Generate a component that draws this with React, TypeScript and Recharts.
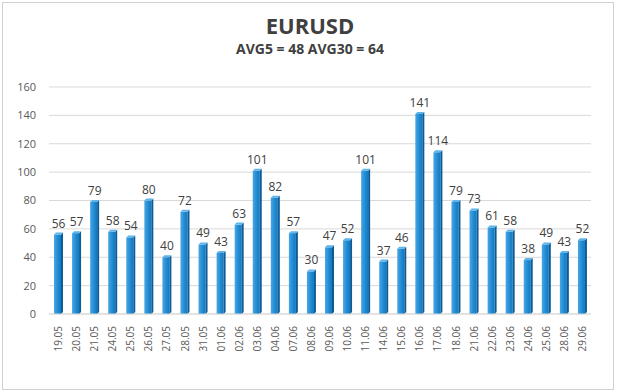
import React from 'react'
import { BarChart, Bar, XAxis, YAxis, CartesianGrid, LabelList } from 'recharts'

const dates = [
  '19.05', '20.05', '21.05', '24.05', '25.05', '26.05', '27.05', '28.05', '31.05', '01.06',
  '02.06', '03.06', '04.06', '07.06', '08.06', '09.06', '10.06', '11.06', '14.06', '15.06',
  '16.06', '17.06', '18.06', '21.06', '22.06', '23.06', '24.06', '25.06', '28.06', '29.06',
]
const values = [
  56, 57, 79, 58, 54, 80, 40, 72, 49, 43,
  63, 101, 82, 57, 30, 47, 52, 101, 37, 46,
  141, 114, 79, 73, 61, 58, 38, 49, 43, 52,
]
const yTicks = [0, 20, 40, 60, 80, 100, 120, 140, 160]

const chartData = dates.map((d, i) => ({ date: d, value: values[i] }))

const font = '"Open Sans", "Noto Sans", sans-serif'

// 3D-ish column like the Excel original
const Column3D = (props: any) => {
  const { x, y, width, height } = props
  if (height <= 0) return null
  const side = 2
  const lift = 2
  const fw = width - side
  return (
    <g>
      <rect x={x} y={y} width={fw} height={height} fill="url(#barFront)" />
      <polygon
        points={`${x + fw},${y} ${x + width},${y - lift} ${x + width},${y + height - lift} ${x + fw},${y + height}`}
        fill="#0b5c98"
      />
      <polygon
        points={`${x},${y} ${x + side},${y - lift} ${x + width},${y - lift} ${x + fw},${y}`}
        fill="#5fb4ea"
      />
    </g>
  )
}

const DateTick = (props: any) => {
  const { x, y, payload } = props
  return (
    <text
      x={x}
      y={y}
      transform={`rotate(-90, ${x}, ${y})`}
      textAnchor="end"
      dominantBaseline="central"
      fontSize={10}
      fill="#595959"
      fontFamily={font}
    >
      {payload.value}
    </text>
  )
}

export default function App() {
  return (
    <div
      style={{
        position: 'absolute',
        left: 0,
        top: 0,
        width: 620,
        height: 392,
        background: '#fff',
      }}
    >
      <div
        style={{
          position: 'absolute',
          left: 2,
          top: 2,
          width: 610,
          height: 386,
          border: '1px solid #d0d0d0',
        }}
      />
      <div
        style={{
          position: 'absolute',
          top: 10,
          width: 620,
          textAlign: 'center',
          fontFamily: font,
          fontWeight: 700,
          fontSize: 22,
          color: '#404040',
        }}
      >
        EURUSD
      </div>
      <div
        style={{
          position: 'absolute',
          top: 39,
          width: 620,
          textAlign: 'center',
          fontFamily: font,
          fontWeight: 700,
          fontSize: 14,
          color: '#404040',
        }}
      >
        AVG5 = 48 AVG30 = 64
      </div>
      <BarChart
        width={620}
        height={392}
        data={chartData}
        margin={{ top: 87, right: 29, bottom: 0, left: 5 }}
        style={{ position: 'absolute', left: 0, top: 0 }}
      >
        <defs>
          <linearGradient id="barFront" x1="0" y1="0" x2="1" y2="0">
            <stop offset="0%" stopColor="#4aa6e4" />
            <stop offset="60%" stopColor="#1e8ad2" />
            <stop offset="100%" stopColor="#1478bd" />
          </linearGradient>
        </defs>
        <CartesianGrid vertical={false} stroke="#d9d9d9" />
        <XAxis
          dataKey="date"
          interval={0}
          axisLine={{ stroke: '#d9d9d9' }}
          tickLine={false}
          tick={<DateTick />}
          height={78}
          tickMargin={6}
        />
        <YAxis
          domain={[0, 160]}
          ticks={yTicks}
          axisLine={false}
          tickLine={false}
          tickSize={0}
          tickMargin={13}
          width={44}
          tick={{ fontSize: 11, fill: '#595959', fontFamily: font }}
        />
        <Bar dataKey="value" barSize={9} shape={<Column3D />} isAnimationActive={false}>
          <LabelList
            dataKey="value"
            position="top"
            offset={7}
            fontSize={12}
            fill="#404040"
            fontFamily={font}
          />
        </Bar>
      </BarChart>
    </div>
  )
}
